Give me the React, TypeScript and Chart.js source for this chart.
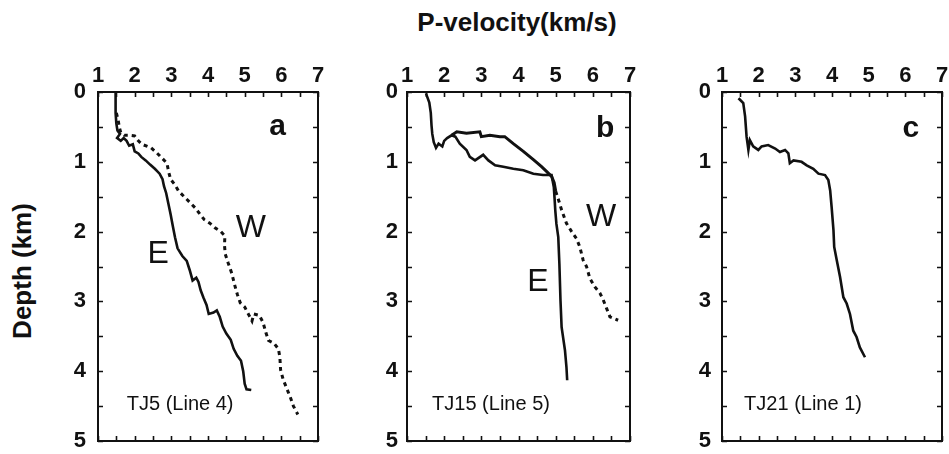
import React, { useEffect, useRef } from "react";
import { Chart, registerables } from "chart.js";

Chart.register(...registerables);

// ---------- data ----------
const velocityTicks = [1, 2, 3, 4, 5, 6, 7];
const depthTicks = [0, 1, 2, 3, 4, 5];

// Panel a (TJ5, Line 4)
const aE_velocity = [1.48, 1.48, 1.5, 1.53, 1.6, 1.52, 1.62, 1.7, 1.78, 1.85, 1.95, 2.0, 2.1, 2.18, 2.3, 2.42, 2.55, 2.68, 2.76, 2.8, 2.86, 2.92, 2.98, 3.04, 3.1, 3.17, 3.3, 3.42, 3.5, 3.58, 3.68, 3.74, 3.8, 3.88, 3.96, 4.02, 4.15, 4.24, 4.32, 4.4, 4.5, 4.62, 4.7, 4.8, 4.9, 4.96, 5.0, 5.05, 5.18];
const aE_depth = [0.0, 0.3, 0.45, 0.55, 0.6, 0.66, 0.7, 0.66, 0.7, 0.77, 0.75, 0.85, 0.88, 0.93, 0.98, 1.04, 1.1, 1.17, 1.25, 1.35, 1.45, 1.6, 1.75, 1.92, 2.08, 2.24, 2.35, 2.42, 2.55, 2.7, 2.66, 2.72, 2.84, 2.95, 3.05, 3.18, 3.16, 3.13, 3.22, 3.36, 3.46, 3.55, 3.68, 3.78, 3.85, 4.0, 4.18, 4.26, 4.27];
const aW_velocity = [1.5, 1.55, 1.58, 1.62, 1.72, 1.85, 2.0, 2.1, 2.2, 2.35, 2.45, 2.6, 2.75, 2.88, 2.93, 2.98, 3.1, 3.2, 3.35, 3.5, 3.65, 3.78, 3.9, 4.05, 4.2, 4.35, 4.46, 4.45, 4.47, 4.55, 4.65, 4.72, 4.8, 4.88, 5.0, 5.12, 5.2, 5.25, 5.4, 5.5, 5.58, 5.65, 5.8, 5.92, 5.96, 5.98, 6.05, 6.15, 6.25, 6.33, 6.45];
const aW_depth = [0.3, 0.4, 0.5, 0.58, 0.62, 0.62, 0.63, 0.7, 0.75, 0.78, 0.8, 0.87, 0.95, 1.02, 1.15, 1.25, 1.33, 1.42, 1.5, 1.58, 1.66, 1.75, 1.83, 1.88, 1.95, 2.0, 2.06, 2.2, 2.32, 2.45, 2.6, 2.75, 2.9, 3.02, 3.08, 3.2, 3.28, 3.18, 3.2, 3.3, 3.45, 3.56, 3.6, 3.68, 3.8, 3.98, 4.12, 4.25, 4.38, 4.5, 4.62];

// Panel b (TJ15, Line 5)
const bE_velocity = [1.51, 1.6, 1.64, 1.66, 1.68, 1.72, 1.78, 1.85, 1.95, 2.0, 2.08, 2.2, 2.3, 2.42, 2.6, 2.69, 2.83, 3.05, 3.19, 3.37, 3.59, 3.86, 4.13, 4.4, 4.66, 4.89, 4.95, 4.97, 4.99, 5.02, 5.07, 5.1, 5.13, 5.16, 5.25, 5.29, 5.31];
const bE_depth = [0.02, 0.15, 0.3, 0.48, 0.6, 0.72, 0.8, 0.74, 0.78, 0.7, 0.66, 0.62, 0.64, 0.74, 0.83, 0.93, 0.98, 0.9, 0.98, 1.05, 1.07, 1.1, 1.12, 1.17, 1.19, 1.19, 1.36, 1.52, 1.7, 1.89, 2.08, 2.46, 2.99, 3.37, 3.7, 3.94, 4.13];
const bW_velocity = [2.2, 2.34, 2.6, 2.96, 3.0, 3.23, 3.5, 3.63, 3.86, 4.13, 4.4, 4.62, 4.76, 4.89, 4.96, 5.0, 5.08, 5.16, 5.29, 5.43, 5.56, 5.65, 5.74, 5.83, 5.92, 6.05, 6.19, 6.28, 6.37, 6.46, 6.68];
const bW_depth = [0.62, 0.57, 0.59, 0.57, 0.64, 0.62, 0.64, 0.64, 0.74, 0.85, 0.97, 1.07, 1.14, 1.21, 1.3, 1.42, 1.55, 1.69, 1.88, 2.0, 2.1, 2.22, 2.41, 2.5, 2.67, 2.79, 2.88, 2.98, 3.1, 3.22, 3.27];

// Panel c (TJ21, Line 1)
const c_velocity = [1.45, 1.58, 1.63, 1.67, 1.72, 1.76, 1.85, 1.99, 2.08, 2.26, 2.45, 2.58, 2.72, 2.81, 2.85, 2.95, 3.17, 3.31, 3.49, 3.63, 3.81, 3.9, 3.95, 3.99, 4.04, 4.06, 4.13, 4.22, 4.31, 4.4, 4.49, 4.58, 4.67, 4.76, 4.9];
const c_depth = [0.09, 0.16, 0.35, 0.64, 0.83, 0.69, 0.78, 0.83, 0.78, 0.76, 0.81, 0.86, 0.83, 0.88, 1.02, 0.98, 1.0, 1.05, 1.1, 1.17, 1.19, 1.26, 1.41, 1.65, 1.98, 2.22, 2.41, 2.65, 2.94, 3.03, 3.18, 3.42, 3.51, 3.66, 3.8];

const MINOR_STEP = 0.5;

// ---------- layout ----------
const FONT = "'Liberation Sans', Arial, Helvetica, sans-serif";
const INK = "#111";
const PLOT_TOP = 92;
const PLOT_H = 349;
const AXIS_W = 40;
const AXIS_H = 42;
const PAD_R = 12;
const PAD_B = 16;

const pts = (xs: number[], ys: number[]) => xs.map((x, i) => ({ x, y: ys[i] }));

type Label = { text: string; x: number; y: number; font: string };

const panels = [
  {
    key: "a",
    left: 98,
    width: 220,
    yPad: 12,
    series: [
      { data: pts(aE_velocity, aE_depth), dash: "none" },
      { data: pts(aW_velocity, aW_depth), dash: "all" },
    ],
    labels: [
      { text: "a", x: 5.9, y: 0.5, font: `bold 30px ${FONT}` },
      { text: "W", x: 5.17, y: 1.95, font: `32px ${FONT}` },
      { text: "E", x: 2.64, y: 2.33, font: `32px ${FONT}` },
      { text: "TJ5 (Line 4)", x: 3.24, y: 4.48, font: `20px ${FONT}` },
    ] as Label[],
  },
  {
    key: "b",
    left: 407,
    width: 223,
    yPad: 9,
    series: [
      { data: pts(bE_velocity, bE_depth), dash: "none" },
      { data: pts(bW_velocity, bW_depth), dash: "deep" },
    ],
    labels: [
      { text: "b", x: 6.33, y: 0.52, font: `bold 30px ${FONT}` },
      { text: "W", x: 6.22, y: 1.79, font: `32px ${FONT}` },
      { text: "E", x: 4.52, y: 2.72, font: `32px ${FONT}` },
      { text: "TJ15 (Line 5)", x: 3.26, y: 4.48, font: `20px ${FONT}` },
    ] as Label[],
  },
  {
    key: "c",
    left: 722,
    width: 220,
    yPad: 11,
    series: [{ data: pts(c_velocity, c_depth), dash: "none" }],
    labels: [
      { text: "c", x: 6.15, y: 0.52, font: `bold 30px ${FONT}` },
      { text: "TJ21 (Line 1)", x: 3.21, y: 4.48, font: `20px ${FONT}` },
    ] as Label[],
  },
];

const framePlugin = {
  id: "frameTicks",
  afterDatasetsDraw(chart: any) {
    const { ctx, chartArea, scales } = chart;
    const { left, right, top, bottom } = chartArea;
    const x = scales.x;
    const y = scales.y;
    ctx.save();
    ctx.strokeStyle = INK;
    ctx.lineWidth = 1.6;
    const tl = 5;
    ctx.beginPath();
    for (let v = x.min; v <= x.max + 1e-9; v += MINOR_STEP) {
      const px = Math.round(x.getPixelForValue(v)) + 0.5;
      ctx.moveTo(px, top);
      ctx.lineTo(px, top + tl);
      ctx.moveTo(px, bottom);
      ctx.lineTo(px, bottom - tl);
    }
    for (let d = y.min; d <= y.max + 1e-9; d += MINOR_STEP) {
      const py = Math.round(y.getPixelForValue(d)) + 0.5;
      ctx.moveTo(left, py);
      ctx.lineTo(left + tl, py);
      ctx.moveTo(right, py);
      ctx.lineTo(right - tl, py);
    }
    ctx.stroke();
    ctx.lineWidth = 2;
    ctx.strokeRect(left, top, right - left, bottom - top);
    // annotations
    const labels: Label[] = chart.options.plugins.frameTicks.labels;
    ctx.fillStyle = INK;
    ctx.textAlign = "center";
    ctx.textBaseline = "middle";
    for (const l of labels) {
      ctx.font = l.font;
      ctx.fillText(l.text, x.getPixelForValue(l.x), y.getPixelForValue(l.y));
    }
    ctx.restore();
  },
};

function Panel({ cfg }: { cfg: (typeof panels)[number] }) {
  const ref = useRef<HTMLCanvasElement>(null);
  const w = AXIS_W + cfg.width + PAD_R;
  const h = AXIS_H + PLOT_H + PAD_B;
  useEffect(() => {
    if (!ref.current) return;
    const chart = new Chart(ref.current, {
      type: "scatter",
      data: {
        datasets: cfg.series.map((s) => ({
          data: s.data,
          showLine: true,
          pointRadius: 0,
          borderColor: INK,
          backgroundColor: INK,
          borderWidth: s.dash === "none" ? 2.6 : 3,
          borderDash: s.dash === "all" ? [4, 4] : [],
          tension: 0,
          segment:
            s.dash === "deep"
              ? { borderDash: (c: any) => (c.p0.parsed.y >= 1.35 ? [4, 4] : undefined) }
              : undefined,
        })),
      },
      options: {
        responsive: false,
        animation: false,
        layout: { padding: { left: 0, top: 0, right: PAD_R, bottom: PAD_B } },
        plugins: {
          legend: { display: false },
          tooltip: { enabled: false },
          frameTicks: { labels: cfg.labels },
        } as any,
        scales: {
          x: {
            type: "linear",
            position: "top",
            min: velocityTicks[0],
            max: velocityTicks[velocityTicks.length - 1],
            grid: { display: false, drawTicks: false },
            border: { display: false },
            afterBuildTicks: (s: any) => {
              s.ticks = velocityTicks.map((v) => ({ value: v }));
            },
            afterFit: (s: any) => {
              s.height = AXIS_H;
              s.paddingLeft = 0;
              s.paddingRight = 0;
            },
            ticks: {
              color: INK,
              padding: 3,
              font: { family: FONT, size: 22, weight: "bold" },
              maxRotation: 0,
            },
          },
          y: {
            type: "linear",
            reverse: true,
            min: depthTicks[0],
            max: depthTicks[depthTicks.length - 1],
            grid: { display: false, drawTicks: false },
            border: { display: false },
            afterBuildTicks: (s: any) => {
              s.ticks = depthTicks.map((v) => ({ value: v }));
            },
            afterFit: (s: any) => {
              s.width = AXIS_W;
              s.paddingTop = 0;
              s.paddingBottom = 0;
            },
            ticks: {
              color: INK,
              padding: cfg.yPad,
              font: { family: FONT, size: 22, weight: "bold" },
            },
          },
        },
      } as any,
      plugins: [framePlugin],
    });
    return () => chart.destroy();
  }, []);
  return (
    <div style={{ position: "absolute", left: cfg.left - AXIS_W, top: PLOT_TOP - AXIS_H, width: w, height: h }}>
      <canvas ref={ref} width={w} height={h} style={{ display: "block", width: w, height: h }} />
    </div>
  );
}

export default function App() {
  return (
    <div style={{ position: "absolute", left: 0, top: 0, width: 949, height: 454, background: "#fff", overflow: "hidden" }}>
      <div
        style={{
          position: "absolute",
          left: 517 - 200,
          width: 400,
          top: 6,
          lineHeight: "32px",
          textAlign: "center",
          fontFamily: FONT,
          fontWeight: "bold",
          fontSize: 26,
          color: INK,
        }}
      >
        P-velocity(km/s)
      </div>
      <div
        style={{
          position: "absolute",
          left: 22 - 100,
          top: 271 - 16,
          width: 200,
          height: 32,
          lineHeight: "32px",
          textAlign: "center",
          transform: "rotate(-90deg)",
          fontFamily: FONT,
          fontWeight: "bold",
          fontSize: 26,
          color: INK,
        }}
      >
        Depth (km)
      </div>
      {panels.map((p) => (
        <Panel key={p.key} cfg={p} />
      ))}
    </div>
  );
}
